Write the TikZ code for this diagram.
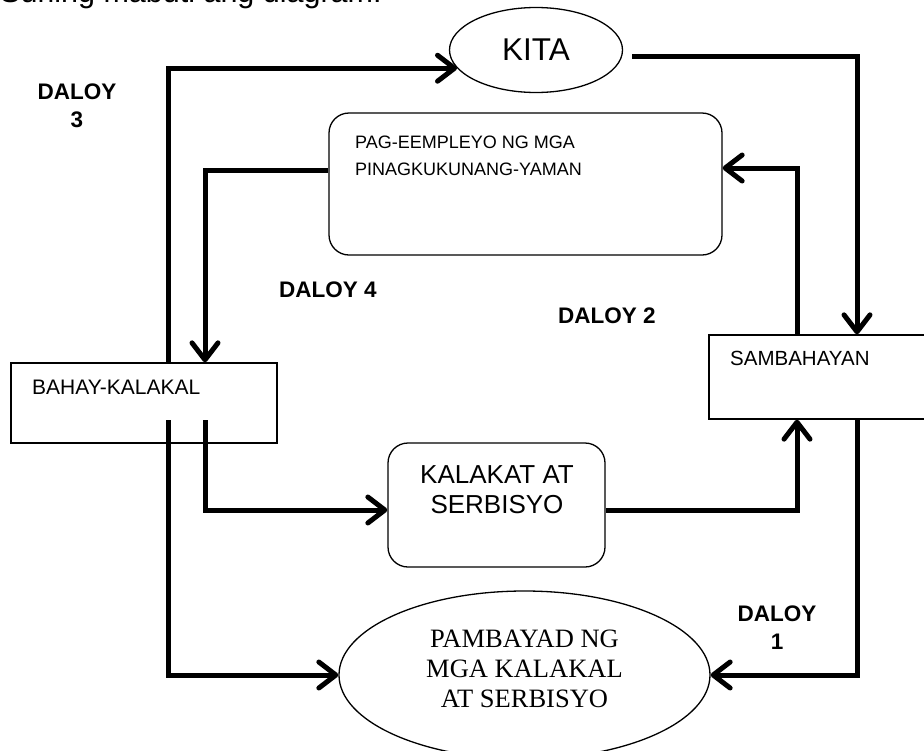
\documentclass[tikz,border=0pt]{standalone}
\usepackage{fontspec}
\setmainfont{Liberation Sans}
\newfontfamily\tnrfont{Liberation Serif}
\usetikzlibrary{arrows.meta,shapes.geometric}
\begin{document}
\begin{tikzpicture}[x=1pt,y=-1pt,
  flow/.style={line width=5pt,-{Straight Barb[length=17pt,width=26pt,round]}},
  box/.style={draw,line width=1.3pt,inner sep=0pt},
  rbox/.style={box,rounded corners=20pt},
  oval/.style={box,ellipse},
  txt/.style={inner sep=0pt},
  daloy/.style={inner sep=0pt,font=\fontsize{22.5}{28}\selectfont\bfseries}]
\useasboundingbox (0,0) rectangle (924,750);
\clip (0,0) rectangle (924,750);
% title (cut off at the top)
\node[txt,anchor=base west,font=\fontsize{30.5}{36}\selectfont] (title) at (0,2) {Suriing mabuti ang diagram.};
% shapes
\node[oval,minimum width=173pt,minimum height=85pt,font=\fontsize{31.5}{36}\selectfont] (kita) at (536,50) {KITA};
\node[rbox,minimum width=393pt,minimum height=142pt] (pag) at (525.5,184) {};
\node[txt,anchor=base west,font=\fontsize{18}{27}\selectfont] (pagt) at (355,148)
  {\parbox[t]{340pt}{\raggedright PAG-EEMPLEYO NG MGA\\PINAGKUKUNANG-YAMAN}};
\node[box,minimum width=266pt,minimum height=80pt] (bahay) at (144,403) {};
\node[txt,anchor=base west,font=\fontsize{21}{25}\selectfont] (bahayt) at (32,394) {BAHAY-KALAKAL};
\node[box,minimum width=221pt,minimum height=84pt] (samba) at (819.5,377) {};
\node[txt,anchor=base west,font=\fontsize{20.5}{25}\selectfont] (sambat) at (730,365) {SAMBAHAYAN};
\node[rbox,minimum width=217pt,minimum height=124pt] (kal) at (496.5,505) {};
\node[txt,anchor=base,font=\fontsize{26}{30}\selectfont] (kalt) at (497,483)
  {\parbox[t]{200pt}{\centering KALAKAT AT\\SERBISYO}};
\node[oval,minimum width=371pt,minimum height=168pt] (pamb) at (524.5,675) {};
\node[txt,anchor=base,font=\tnrfont\fontsize{26.5}{30}\selectfont] (pambt) at (524.5,647)
  {\parbox[t]{300pt}{\centering PAMBAYAD NG\\MGA KALAKAL\\AT SERBISYO}};
% labels
\node[daloy,anchor=base] (d3) at (77,99) {\parbox[t]{120pt}{\centering DALOY\\3}};
\node[daloy,anchor=base west] (d4) at (279,297) {DALOY 4};
\node[daloy,anchor=base west] (d2) at (558,323) {DALOY 2};
\node[daloy,anchor=base] (d1) at (777,621) {\parbox[t]{120pt}{\centering DALOY\\1}};
% helper coordinates
\coordinate (xL) at (168,0);
\coordinate (xM) at (205,0);
\coordinate (xU) at (797,0);
\coordinate (xR) at (857,0);
\coordinate (bL) at (168,420);
\coordinate (bM) at (205,420);
\coordinate (kstart) at ([xshift=9pt,yshift=-6pt]kita.east);
% flows
\draw[flow] (bahay.north -| xL) |- (kita.193);
\draw[flow] (kstart) -| (samba.north -| xR);
\draw[flow] ([yshift=14pt]pag.west) -| (bahay.north -| xM);
\draw[flow] (samba.north -| xU) |- ([yshift=16pt]pag.east);
\draw[flow] (bM) |- ([yshift=-5pt]kal.west);
\draw[flow] ([yshift=-5pt]kal.east) -| (samba.south -| xU);
\draw[flow] (bL) |- (pamb.west);
\draw[flow] (samba.south -| xR) |- (pamb.east);
\end{tikzpicture}
\end{document}
